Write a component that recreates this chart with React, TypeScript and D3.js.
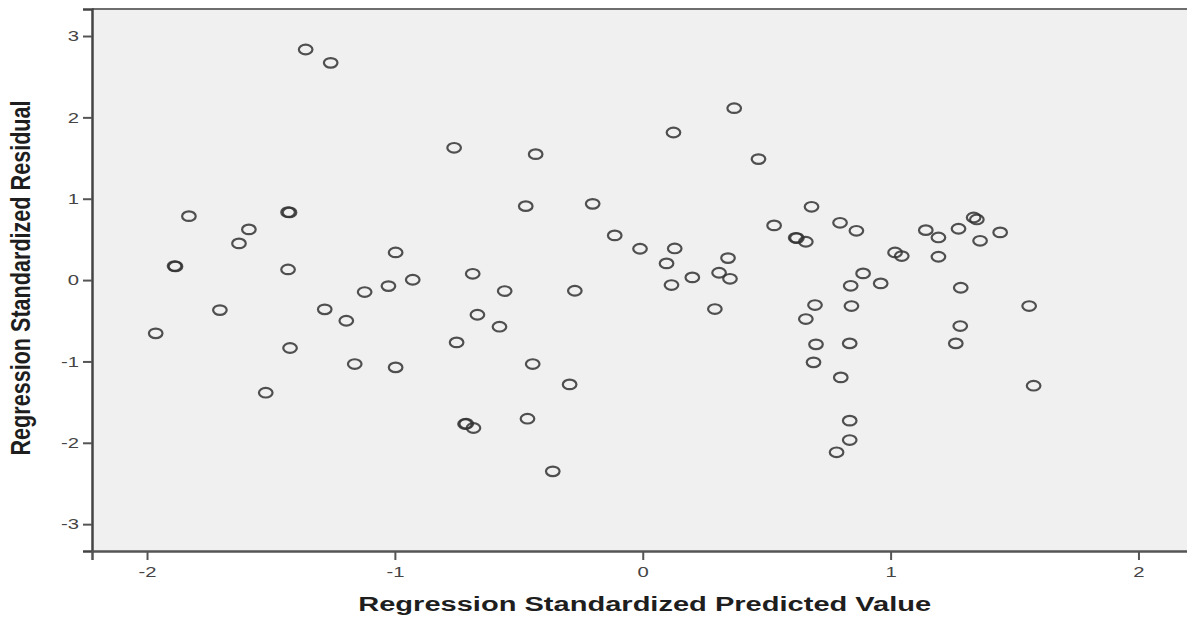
import React, { useEffect, useRef } from 'react';
import * as d3 from 'd3';

// (x = predicted, y = residual)
const predicted = [
  -1.36, -1.259, -1.831, -1.589, -1.629, -1.431, -1.425, -1.889, -1.885, -1.431,
  -0.997, -1.122, -1.026, -0.761, -0.432, 0.124, 0.369, 0.467, -0.472, -0.202,
  -0.113, -0.011, 0.129, 0.096, 0.344, 0.53, 0.617, 0.622, -0.928, -0.686,
  -0.557, -0.274, 0.116, 0.2, 0.308, 0.352, 0.681, 0.658, 0.796, 0.862,
  1.142, 1.193, 1.274, 1.335, 1.348, 1.361, 1.442, 1.018, 1.045, 1.193,
  0.889, 0.839, 0.96, 1.283, -1.965, -1.706, -1.423, -1.521, -1.283, -1.196,
  -1.162, -0.997, -0.667, -0.578, -0.751, -0.444, -0.295, -0.717, -0.712, -0.683,
  -0.465, -0.363, 0.291, 0.695, 0.842, 0.658, 0.699, 0.835, 0.689, 0.799,
  1.559, 1.281, 1.263, 1.577, 0.835, 0.835, 0.782
];
const residual = [
  2.834, 2.67, 0.786, 0.623, 0.451, 0.835, 0.832, 0.172, 0.168, 0.131,
  0.34, -0.147, -0.074, 1.626, 1.548, 1.814, 2.113, 1.487, 0.909, 0.937,
  0.549, 0.385, 0.389, 0.205, 0.27, 0.672, 0.52, 0.516, 0.004, 0.077,
  -0.135, -0.131, -0.061, 0.033, 0.09, 0.016, 0.901, 0.471, 0.704, 0.606,
  0.614, 0.524, 0.631, 0.77, 0.745, 0.483, 0.586, 0.34, 0.295, 0.287,
  0.082, -0.07, -0.041, -0.094, -0.655, -0.369, -0.835, -1.384, -0.36, -0.5,
  -1.032, -1.073, -0.426, -0.573, -0.766, -1.032, -1.282, -1.769, -1.766, -1.818,
  -1.704, -2.351, -0.356, -0.307, -0.319, -0.479, -0.79, -0.778, -1.011, -1.196,
  -0.319, -0.565, -0.778, -1.298, -1.728, -1.966, -2.117
];
const xTicks = [-2, -1, 0, 1, 2];
const yTicks = [-3, -2, -1, 0, 1, 2, 3];

const W = 1187;
const H = 618;
const FONT = 'Arial, "Liberation Sans", sans-serif';

const App = () => {
  const svgRef = useRef<SVGSVGElement>(null);

  useEffect(() => {
    const left = 92, top = 9, bottom = 551, right = 1192;
    const x = d3.scaleLinear().domain([-2.222, 2.216]).range([left, right]);
    const y = d3.scaleLinear().domain([-3.33, 3.332]).range([bottom, top]);

    const svg = d3.select(svgRef.current);
    svg.selectAll('*').remove();

    // plot background
    svg.append('rect')
      .attr('x', left).attr('y', top)
      .attr('width', right - left).attr('height', bottom - top)
      .attr('fill', '#f0f0f0');

    // top border
    svg.append('line')
      .attr('x1', left).attr('x2', right)
      .attr('y1', top).attr('y2', top)
      .attr('stroke', '#6e6e6e').attr('stroke-width', 2);

    // points
    svg.append('g')
      .selectAll('ellipse')
      .data(predicted.map((p, i) => [p, residual[i]]))
      .join('ellipse')
      .attr('cx', (d) => x(d[0]))
      .attr('cy', (d) => y(d[1]))
      .attr('rx', 6.8)
      .attr('ry', 4.8)
      .attr('fill', 'none')
      .attr('stroke', '#333')
      .attr('stroke-opacity', 0.85)
      .attr('stroke-width', 2.2);

    // Y axis
    const gy = svg.append('g')
      .attr('transform', `translate(${left},0)`)
      .call(d3.axisLeft(y).tickValues(yTicks).tickSize(9).tickFormat((d) => String(d)));
    gy.select('.domain').attr('stroke', '#444').attr('stroke-width', 2.5);
    gy.selectAll('.tick line').attr('stroke', '#555').attr('stroke-width', 2);
    gy.selectAll('.tick text')
      .attr('x', 0)
      .attr('font-family', FONT)
      .attr('font-size', 15)
      .attr('fill', '#444')
      .attr('transform', 'translate(-13,0) scale(1.35,1)');

    // X axis
    const gx = svg.append('g')
      .attr('transform', `translate(0,${bottom})`)
      .call(d3.axisBottom(x).tickValues(xTicks).tickSize(9).tickPadding(6).tickFormat((d) => String(d)));
    gx.select('.domain').attr('stroke', '#555').attr('stroke-width', 2.5);
    gx.selectAll('.tick line').attr('stroke', '#555').attr('stroke-width', 2);
    gx.selectAll('.tick text')
      .attr('font-family', FONT)
      .attr('font-size', 15)
      .attr('fill', '#444')
      .attr('transform', 'scale(1.35,1)');

    // axis titles
    svg.append('text')
      .attr('transform', `translate(${(x(-2) + x(2)) / 2 + 2},${H - 7})`)
      .attr('text-anchor', 'middle')
      .attr('font-family', FONT)
      .attr('font-weight', 'bold')
      .attr('font-size', 20)
      .attr('fill', '#1e1e1e')
      .attr('textLength', 573)
      .attr('lengthAdjust', 'spacingAndGlyphs')
      .text('Regression Standardized Predicted Value');

    svg.append('text')
      .attr('transform', `translate(${30},${278}) rotate(-90) scale(1,1.4)`)
      .attr('text-anchor', 'middle')
      .attr('font-family', FONT)
      .attr('font-weight', 'bold')
      .attr('font-size', 20)
      .attr('fill', '#1e1e1e')
      .attr('textLength', 355)
      .attr('lengthAdjust', 'spacingAndGlyphs')
      .text('Regression Standardized Residual');
  }, []);

  return (
    <svg
      ref={svgRef}
      width={W}
      height={H}
      style={{ position: 'absolute', left: 0, top: 0, background: '#fff' }}
    />
  );
};

export default App;
